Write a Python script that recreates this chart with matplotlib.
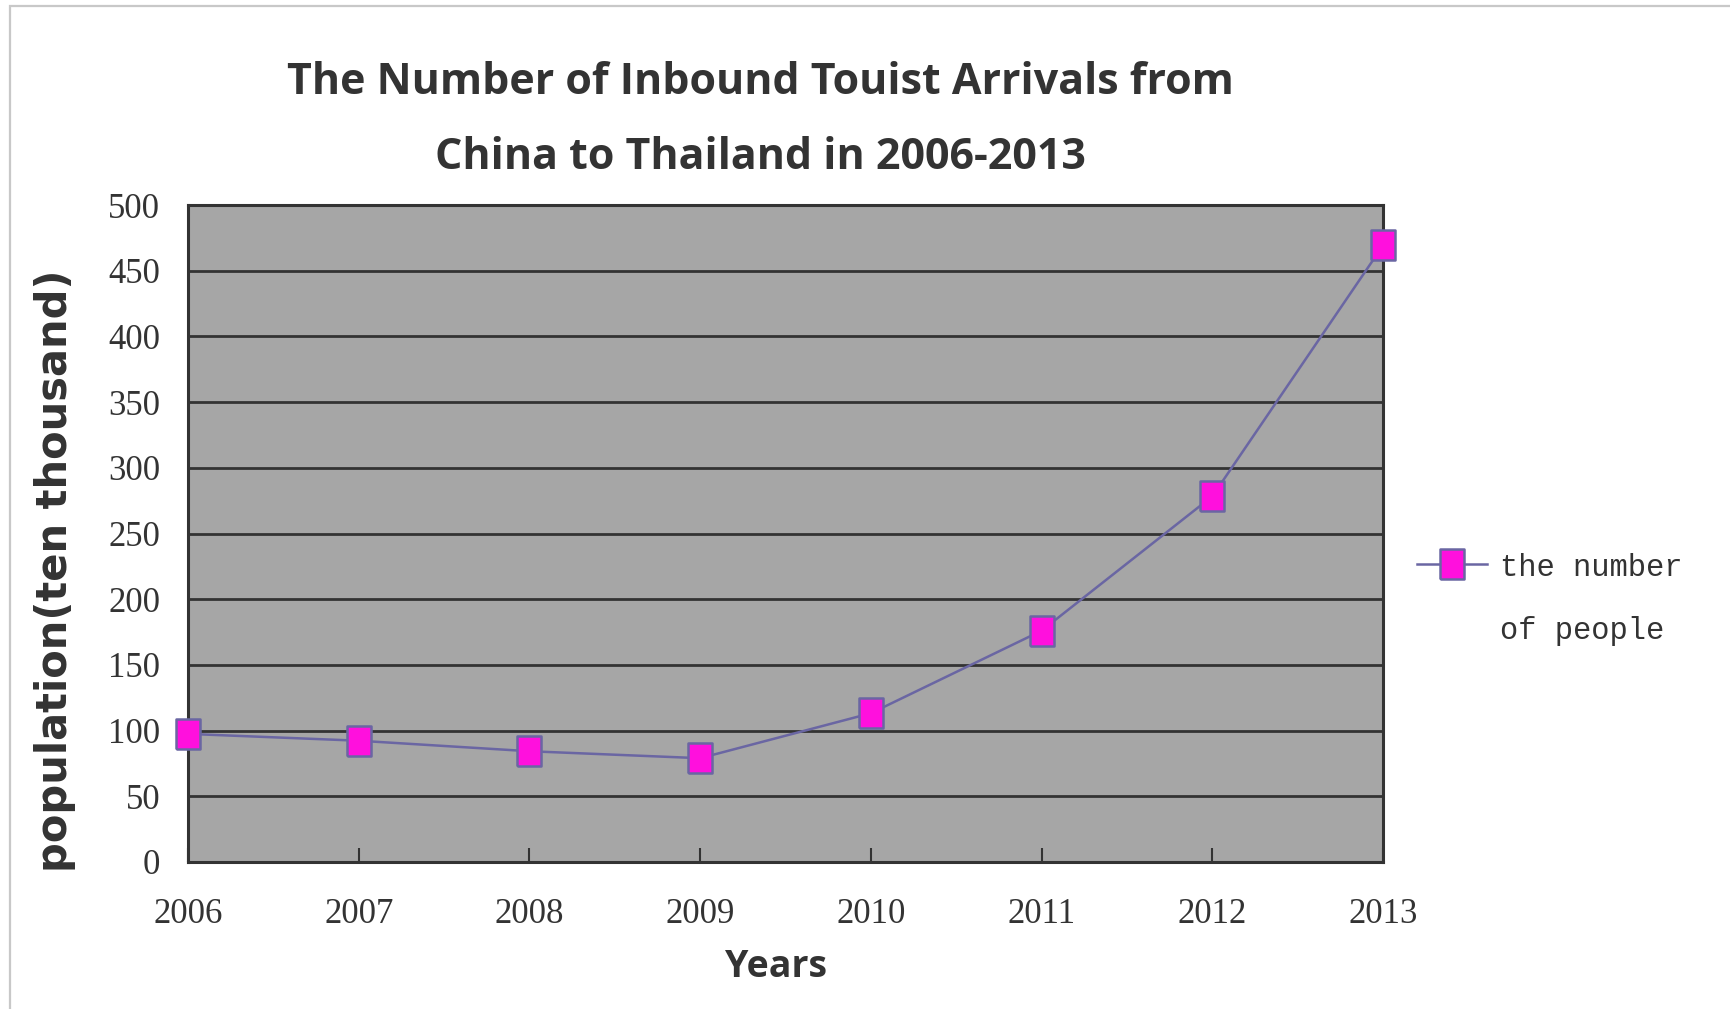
import matplotlib
matplotlib.use("Agg")
import matplotlib.pyplot as plt
from matplotlib.patches import Rectangle
import logging
logging.getLogger("matplotlib.font_manager").setLevel(logging.ERROR)

years = [2006, 2007, 2008, 2009, 2010, 2011, 2012, 2013]
arrivals = [97.5, 92.3, 84.3, 79.0, 113.2, 176.0, 278.3, 469.2]
y_ticks = [0, 50, 100, 150, 200, 250, 300, 350, 400, 450, 500]
title = "The Number of Inbound Touist Arrivals from\nChina to Thailand in 2006-2013"
series_label = "the number\nof people"

W, H = 1731, 1009
fig = plt.figure(figsize=(W / 100, H / 100), dpi=100)
fig.patch.set_facecolor("white")

# outer light frame
fig.patches.append(Rectangle((10 / W, -0.05), 1.1, 1 - 6 / H + 0.05, transform=fig.transFigure,
                             fill=False, edgecolor="#c8c8c8", linewidth=1.6))

ax = fig.add_axes([188 / W, 1 - 862 / H, (1383 - 188) / W, (862 - 205) / H])
ax.set_facecolor("#a6a6a6")

line_col = "#6a66a3"
rect = [(-0.4, -0.5), (0.4, -0.5), (0.4, 0.5), (-0.4, 0.5), (-0.4, -0.5)]
ax.plot(years, arrivals, color=line_col, lw=1.8, marker=rect, markersize=22,
        markerfacecolor="#ff10dd", markeredgecolor=line_col, markeredgewidth=1.8,
        clip_on=False, zorder=5, label=series_label)

ax.set_xlim(2006, 2013)
ax.set_ylim(0, 500)
ax.set_yticks(y_ticks)
ax.set_xticks(years)
ax.yaxis.grid(True, color="#333333", lw=2.0)
ax.set_axisbelow(True)
for s in ax.spines.values():
    s.set_color("#333333")
    s.set_linewidth(2.2)

serif = ["Liberation Serif", "DejaVu Serif"]
ax.tick_params(axis="y", length=0, pad=20, labelsize=25, labelcolor="#333333")
ax.tick_params(axis="x", direction="in", length=10, width=1.5, color="#333333",
               pad=26, labelsize=25, labelcolor="#333333")
for lab in ax.get_xticklabels() + ax.get_yticklabels():
    lab.set_fontfamily(serif)

narrow = ["Open Sans", "DejaVu Sans"]
fig.text(760 / W, 1 - 120 / H, title, ha="center", va="center", fontsize=31,
         fontweight="bold", family=narrow, color="#333333", linespacing=1.95)
fig.text(776 / W, 1 - 967 / H, "Years", ha="center", va="center", fontsize=27,
         fontweight="bold", family=narrow, color="#333333")
fig.text(55 / W, 1 - 571 / H, "population(ten thousand)", ha="center", va="center",
         rotation=90, fontsize=30, fontweight="bold", family=["DejaVu Sans"], color="#333333")

leg = fig.legend(loc="upper left", bbox_to_anchor=(1417 / W, 1 - 553 / H), frameon=False,
                 prop={"family": ["Liberation Mono", "DejaVu Sans Mono"], "size": 22},
                 handlelength=2.3, handletextpad=0.4, borderpad=0, borderaxespad=0,
                 labelcolor="#333333")
for t in leg.get_texts():
    t.set_linespacing(2.42)
try:
    for col in leg._legend_handle_box.get_children():
        for row in col.get_children():
            row.align = "top"
except Exception:
    pass

fig.savefig("out.png", dpi=100, facecolor="white")
